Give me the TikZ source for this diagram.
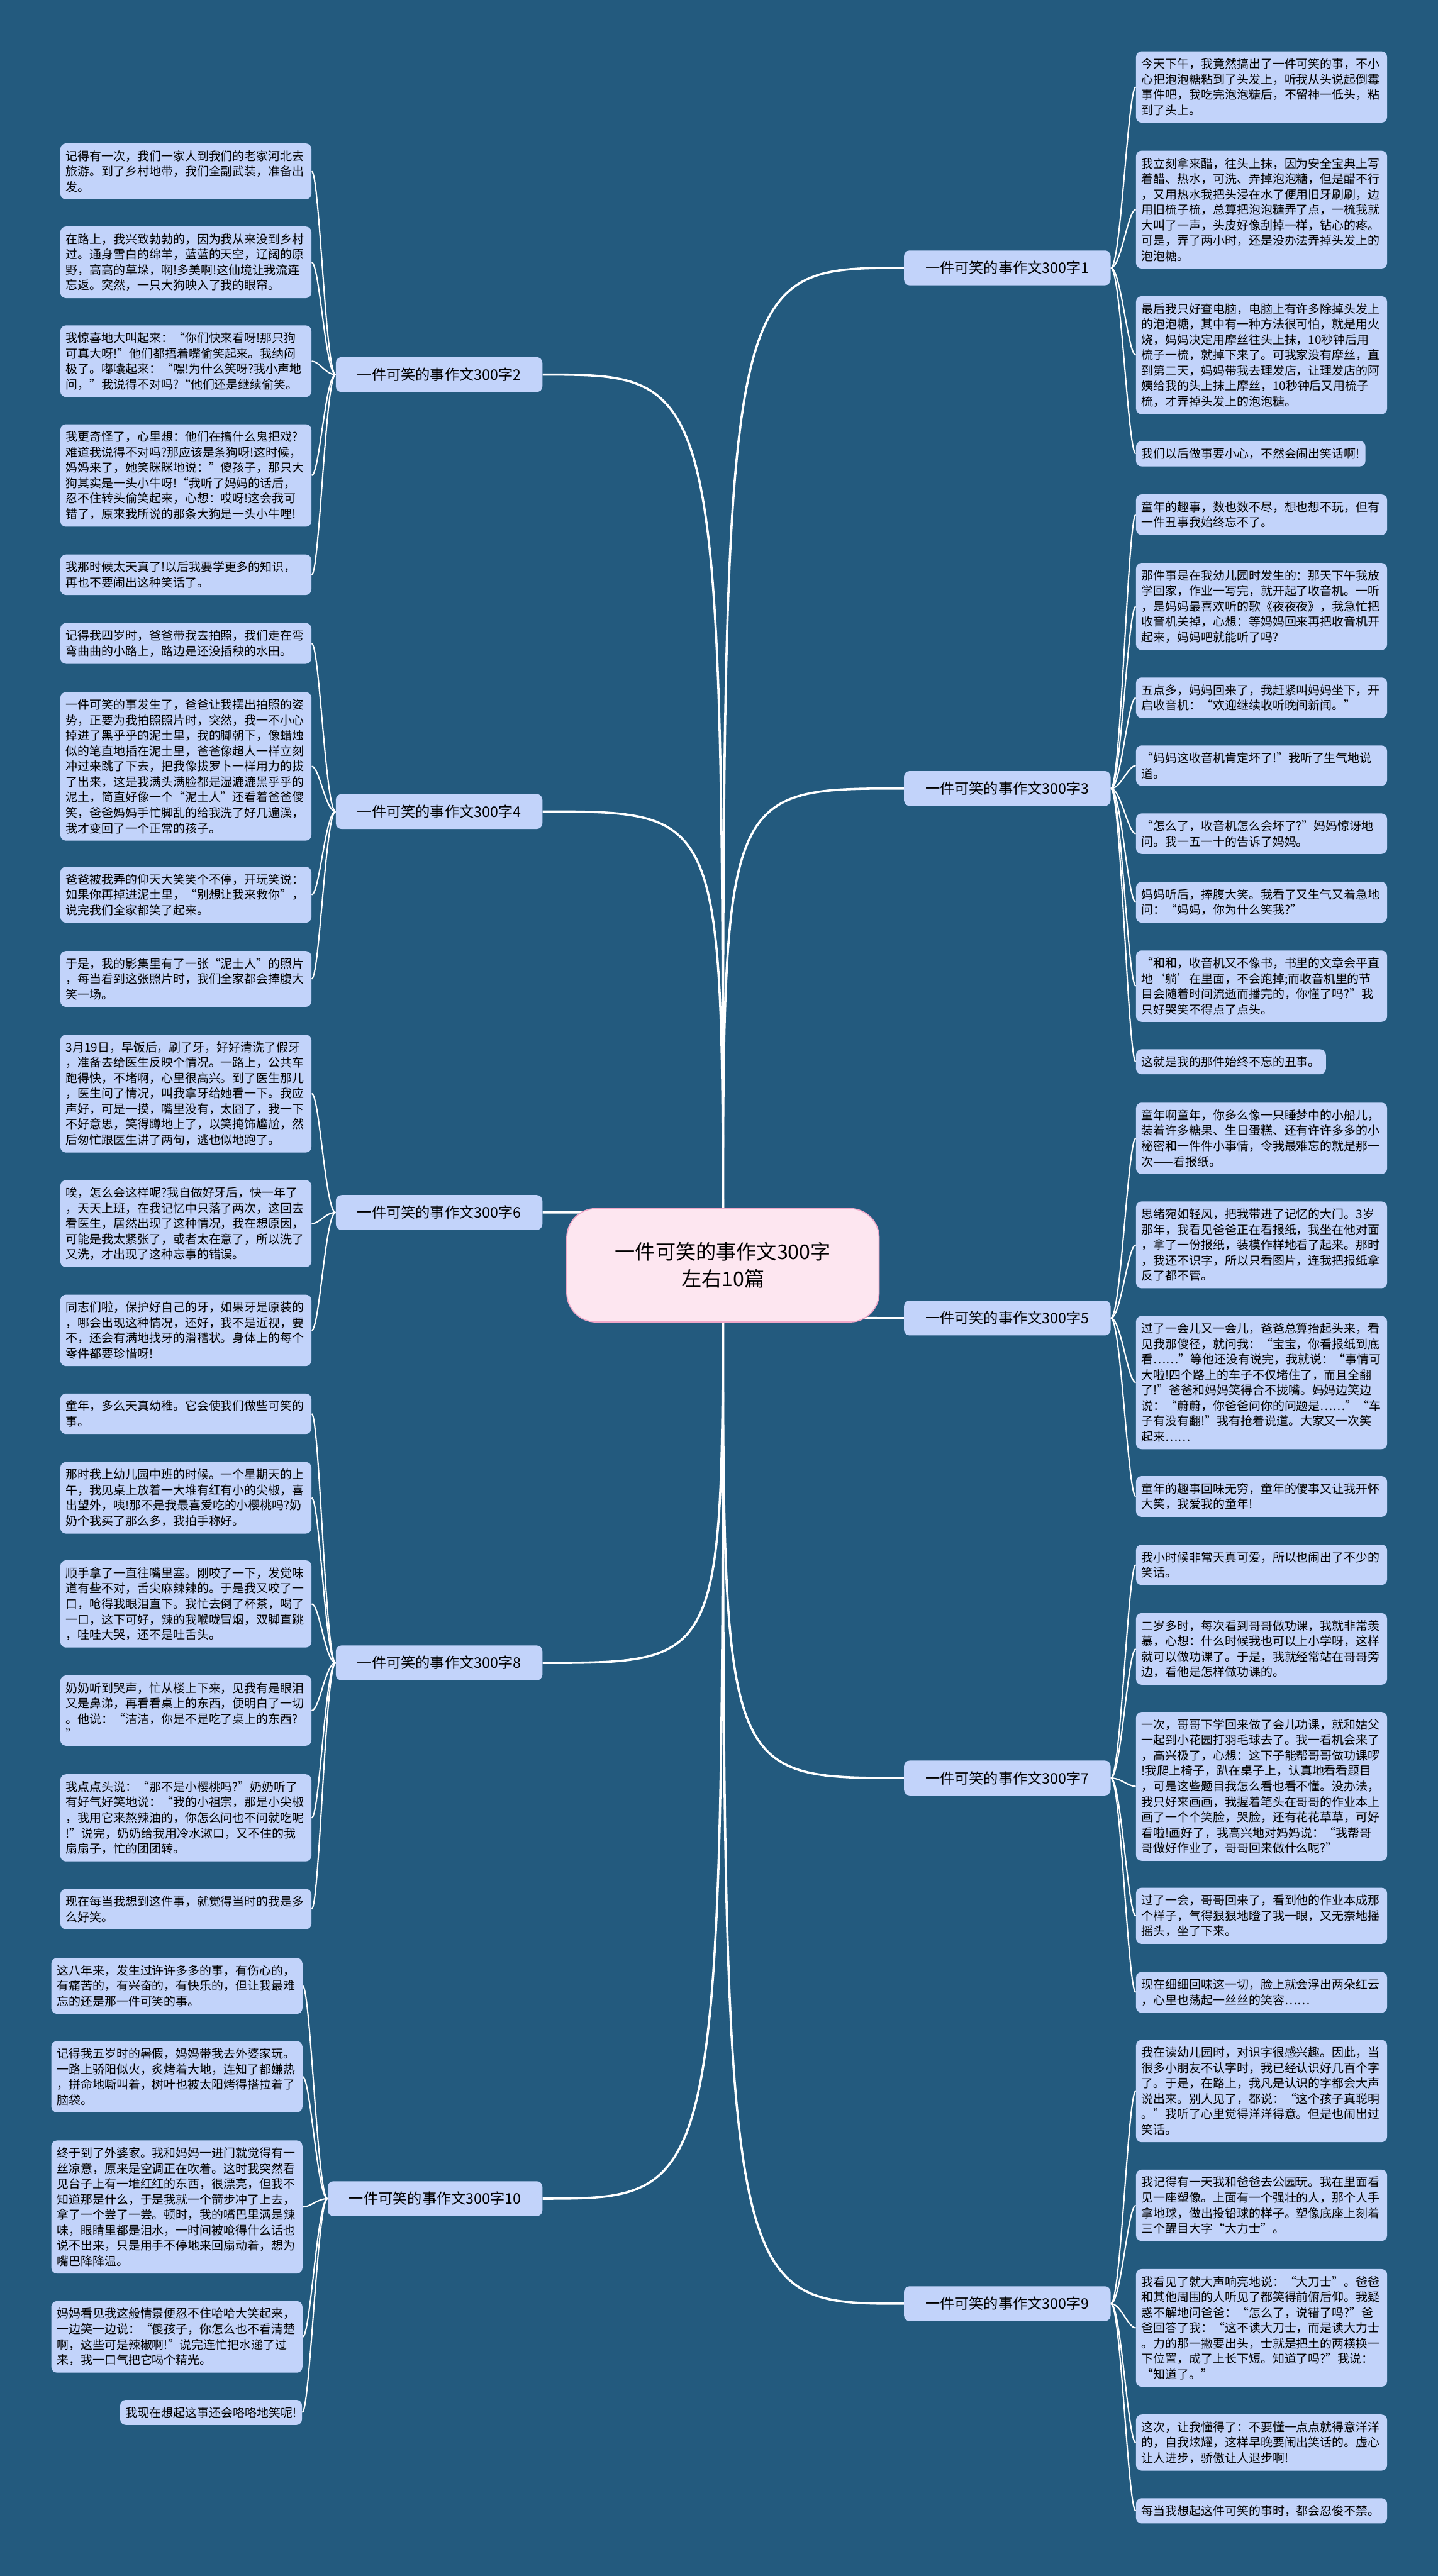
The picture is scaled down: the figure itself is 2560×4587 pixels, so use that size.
\documentclass[tikz,border=0pt]{standalone}
\usepackage{fontspec}
\setmainfont{Noto Sans CJK SC}
\usetikzlibrary{backgrounds}

\definecolor{bgblue}{HTML}{235A7E}
\definecolor{leafblue}{HTML}{C2D3FA}
\definecolor{rootpink}{HTML}{FDE6F0}
\definecolor{rootedge}{HTML}{F0A8C8}

\newcommand{\leaffont}{\fontsize{10.6pt}{13.75pt}\selectfont}
\newcommand{\branchfont}{\fontsize{13pt}{16pt}\selectfont}
\newcommand{\rootfont}{\fontsize{18pt}{24pt}\selectfont}

\begin{document}
\begin{tikzpicture}[
  x=0.5pt, y=-0.5pt,
  leaf/.style={fill=leafblue, rounded corners=5pt, inner xsep=5pt, inner ysep=6.2pt,
    align=left, font=\leaffont, anchor=north west},
  wide/.style={leaf, text width=213.5pt},
  branch/.style={fill=leafblue, rounded corners=5pt, font=\branchfont,
    inner xsep=19pt, minimum height=31pt},
  root/.style={fill=rootpink, draw=rootedge, line width=1pt, rounded corners=26pt,
    minimum width=278pt, minimum height=101pt, align=center, font=\rootfont},
  bough/.style={draw=white, line width=2pt},
  twig/.style={draw=white, line width=1.2pt}
]
  \useasboundingbox (0,0) rectangle (2560,4587);
  \begin{scope}[on background layer]
    \fill[bgblue] (0,0) rectangle (2560,4587);
  \end{scope}

  % Centre
  \node[root] (root) at (1287,2253) {一件可笑的事作文300字\\左右10篇};

  % Branches, right side
  \node[branch, anchor=west] (b1) at (1609,477)  {一件可笑的事作文300字1};
  \node[branch, anchor=west] (b3) at (1609,1404) {一件可笑的事作文300字3};
  \node[branch, anchor=west] (b5) at (1609,2347) {一件可笑的事作文300字5};
  \node[branch, anchor=west] (b7) at (1609,3166) {一件可笑的事作文300字7};
  \node[branch, anchor=west] (b9) at (1609,4102) {一件可笑的事作文300字9};

  % Branches, left side
  \node[branch, anchor=east] (b2)  at (966,667)  {一件可笑的事作文300字2};
  \node[branch, anchor=east] (b4)  at (966,1445) {一件可笑的事作文300字4};
  \node[branch, anchor=east] (b6)  at (966,2159) {一件可笑的事作文300字6};
  \node[branch, anchor=east] (b8)  at (966,2961) {一件可笑的事作文300字8};
  \node[branch, anchor=east] (b10) at (966,3915) {一件可笑的事作文300字10};

  % Leaves of 1
  \node[wide] (r1a) at (2022,91) {今天下午，我竟然搞出了一件可笑的事，不小\\心把泡泡糖粘到了头发上，听我从头说起倒霉\\事件吧，我吃完泡泡糖后，不留神一低头，粘\\到了头上。};
  \node[wide] (r1b) at (2022,268) {我立刻拿来醋，往头上抹，因为安全宝典上写\\着醋、热水，可洗、弄掉泡泡糖，但是醋不行\\，又用热水我把头浸在水了便用旧牙刷刷，边\\用旧梳子梳，总算把泡泡糖弄了点，一梳我就\\大叫了一声，头皮好像刮掉一样，钻心的疼。\\可是，弄了两小时，还是没办法弄掉头发上的\\泡泡糖。};
  \node[wide] (r1c) at (2022,527) {最后我只好查电脑，电脑上有许多除掉头发上\\的泡泡糖，其中有一种方法很可怕，就是用火\\烧，妈妈决定用摩丝往头上抹，10秒钟后用\\梳子一梳，就掉下来了。可我家没有摩丝，直\\到第二天，妈妈带我去理发店，让理发店的阿\\姨给我的头上抹上摩丝，10秒钟后又用梳子\\梳，才弄掉头发上的泡泡糖。};
  \node[leaf] (r1d) at (2022,785) {我们以后做事要小心，不然会闹出笑话啊!};

  % Leaves of 3
  \node[wide] (r3a) at (2022,880) {童年的趣事，数也数不尽，想也想不玩，但有\\一件丑事我始终忘不了。};
  \node[wide] (r3b) at (2022,1002) {那件事是在我幼儿园时发生的：那天下午我放\\学回家，作业一写完，就开起了收音机。一听\\，是妈妈最喜欢听的歌《夜夜夜》，我急忙把\\收音机关掉，心想：等妈妈回来再把收音机开\\起来，妈妈吧就能听了吗?};
  \node[wide] (r3c) at (2022,1206) {五点多，妈妈回来了，我赶紧叫妈妈坐下，开\\启收音机：“欢迎继续收听晚间新闻。”};
  \node[wide] (r3d) at (2022,1327) {“妈妈这收音机肯定坏了!”我听了生气地说\\道。};
  \node[wide] (r3e) at (2022,1448) {“怎么了，收音机怎么会坏了?”妈妈惊讶地\\问。我一五一十的告诉了妈妈。};
  \node[wide] (r3f) at (2022,1570) {妈妈听后，捧腹大笑。我看了又生气又着急地\\问：“妈妈，你为什么笑我?”};
  \node[wide] (r3g) at (2022,1692) {“和和，收音机又不像书，书里的文章会平直\\地‘躺’在里面，不会跑掉;而收音机里的节\\目会随着时间流逝而播完的，你懂了吗?”我\\只好哭笑不得点了点头。};
  \node[leaf] (r3h) at (2022,1868) {这就是我的那件始终不忘的丑事。};

  % Leaves of 5
  \node[wide] (r5a) at (2022,1963) {童年啊童年，你多么像一只睡梦中的小船儿，\\装着许多糖果、生日蛋糕、还有许许多多的小\\秘密和一件件小事情，令我最难忘的就是那一\\次——看报纸。};
  \node[wide] (r5b) at (2022,2139) {思绪宛如轻风，把我带进了记忆的大门。3岁\\那年，我看见爸爸正在看报纸，我坐在他对面\\，拿了一份报纸，装模作样地看了起来。那时\\，我还不识字，所以只看图片，连我把报纸拿\\反了都不管。};
  \node[wide] (r5c) at (2022,2343) {过了一会儿又一会儿，爸爸总算抬起头来，看\\见我那傻径，就问我：“宝宝，你看报纸到底\\看……”等他还没有说完，我就说：“事情可\\大啦!四个路上的车子不仅堵住了，而且全翻\\了!”爸爸和妈妈笑得合不拢嘴。妈妈边笑边\\说：“蔚蔚，你爸爸问你的问题是……”“车\\子有没有翻!”我有抢着说道。大家又一次笑\\起来……};
  \node[wide] (r5d) at (2022,2628) {童年的趣事回味无穷，童年的傻事又让我开怀\\大笑，我爱我的童年!};

  % Leaves of 7
  \node[wide] (r7a) at (2022,2750) {我小时候非常天真可爱，所以也闹出了不少的\\笑话。};
  \node[wide] (r7b) at (2022,2872) {二岁多时，每次看到哥哥做功课，我就非常羡\\慕，心想：什么时候我也可以上小学呀，这样\\就可以做功课了。于是，我就经常站在哥哥旁\\边，看他是怎样做功课的。};
  \node[wide] (r7c) at (2022,3048) {一次，哥哥下学回来做了会儿功课，就和姑父\\一起到小花园打羽毛球去了。我一看机会来了\\，高兴极了，心想：这下子能帮哥哥做功课啰\\!我爬上椅子，趴在桌子上，认真地看看题目\\，可是这些题目我怎么看也看不懂。没办法，\\我只好来画画，我握着笔头在哥哥的作业本上\\画了一个个笑脸，哭脸，还有花花草草，可好\\看啦!画好了，我高兴地对妈妈说：“我帮哥\\哥做好作业了，哥哥回来做什么呢?”};
  \node[wide] (r7d) at (2022,3361) {过了一会，哥哥回来了，看到他的作业本成那\\个样子，气得狠狠地瞪了我一眼，又无奈地摇\\摇头，坐了下来。};
  \node[wide] (r7e) at (2022,3511) {现在细细回味这一切，脸上就会浮出两朵红云\\，心里也荡起一丝丝的笑容……};

  % Leaves of 9
  \node[wide] (r9a) at (2022,3632) {我在读幼儿园时，对识字很感兴趣。因此，当\\很多小朋友不认字时，我已经认识好几百个字\\了。于是，在路上，我凡是认识的字都会大声\\说出来。别人见了，都说：“这个孩子真聪明\\。”我听了心里觉得洋洋得意。但是也闹出过\\笑话。};
  \node[wide] (r9b) at (2022,3863) {我记得有一天我和爸爸去公园玩。我在里面看\\见一座塑像。上面有一个强壮的人，那个人手\\拿地球，做出投铅球的样子。塑像底座上刻着\\三个醒目大字“大力士”。};
  \node[wide] (r9c) at (2022,4040) {我看见了就大声响亮地说：“大刀士”。爸爸\\和其他周围的人听见了都笑得前俯后仰。我疑\\惑不解地问爸爸：“怎么了，说错了吗?”爸\\爸回答了我：“这不读大刀士，而是读大力士\\。力的那一撇要出头，士就是把土的两横换一\\下位置，成了上长下短。知道了吗?”我说：\\“知道了。”};
  \node[wide] (r9d) at (2022,4299) {这次，让我懂得了：不要懂一点点就得意洋洋\\的，自我炫耀，这样早晚要闹出笑话的。虚心\\让人进步，骄傲让人退步啊!};
  \node[wide] (r9e) at (2022,4448) {每当我想起这件可笑的事时，都会忍俊不禁。};

  % Leaves of 2
  \node[wide] (l2a) at (107,255) {记得有一次，我们一家人到我们的老家河北去\\旅游。到了乡村地带，我们全副武装，准备出\\发。};
  \node[wide] (l2b) at (107,403) {在路上，我兴致勃勃的，因为我从来没到乡村\\过。通身雪白的绵羊，蓝蓝的天空，辽阔的原\\野，高高的草垛，啊!多美啊!这仙境让我流连\\忘返。突然，一只大狗映入了我的眼帘。};
  \node[wide] (l2c) at (107,579) {我惊喜地大叫起来：“你们快来看呀!那只狗\\可真大呀!”他们都捂着嘴偷笑起来。我纳闷\\极了。嘟囔起来：“嘿!为什么笑呀?我小声地\\问，”我说得不对吗?“他们还是继续偷笑。};
  \node[wide] (l2d) at (107,755) {我更奇怪了，心里想：他们在搞什么鬼把戏?\\难道我说得不对吗?那应该是条狗呀!这时候，\\妈妈来了，她笑眯眯地说：”傻孩子，那只大\\狗其实是一头小牛呀!“我听了妈妈的话后，\\忍不住转头偷笑起来，心想：哎呀!这会我可\\错了，原来我所说的那条大狗是一头小牛哩!};
  \node[wide] (l2e) at (107,987) {我那时候太天真了!以后我要学更多的知识，\\再也不要闹出这种笑话了。};

  % Leaves of 4
  \node[wide] (l4a) at (107,1109) {记得我四岁时，爸爸带我去拍照，我们走在弯\\弯曲曲的小路上，路边是还没插秧的水田。};
  \node[wide] (l4b) at (107,1232) {一件可笑的事发生了，爸爸让我摆出拍照的姿\\势，正要为我拍照照片时，突然，我一不小心\\掉进了黑乎乎的泥土里，我的脚朝下，像蜡烛\\似的笔直地插在泥土里，爸爸像超人一样立刻\\冲过来跳了下去，把我像拔罗卜一样用力的拔\\了出来，这是我满头满脸都是湿漉漉黑乎乎的\\泥土，简直好像一个“泥土人”还看着爸爸傻\\笑，爸爸妈妈手忙脚乱的给我洗了好几遍澡，\\我才变回了一个正常的孩子。};
  \node[wide] (l4c) at (107,1543) {爸爸被我弄的仰天大笑笑个不停，开玩笑说：\\如果你再掉进泥土里，“别想让我来救你”，\\说完我们全家都笑了起来。};
  \node[wide] (l4d) at (107,1693) {于是，我的影集里有了一张“泥土人”的照片\\，每当看到这张照片时，我们全家都会捧腹大\\笑一场。};

  % Leaves of 6
  \node[wide] (l6a) at (107,1842) {3月19日，早饭后，刷了牙，好好清洗了假牙\\，准备去给医生反映个情况。一路上，公共车\\跑得快，不堵啊，心里很高兴。到了医生那儿\\，医生问了情况，叫我拿牙给她看一下。我应\\声好，可是一摸，嘴里没有，太囧了，我一下\\不好意思，笑得蹲地上了，以笑掩饰尴尬，然\\后匆忙跟医生讲了两句，逃也似地跑了。};
  \node[wide] (l6b) at (107,2101) {唉，怎么会这样呢?我自做好牙后，快一年了\\，天天上班，在我记忆中只落了两次，这回去\\看医生，居然出现了这种情况，我在想原因，\\可能是我太紧张了，或者太在意了，所以洗了\\又洗，才出现了这种忘事的错误。};
  \node[wide] (l6c) at (107,2305) {同志们啦，保护好自己的牙，如果牙是原装的\\，哪会出现这种情况，还好，我不是近视，要\\不，还会有满地找牙的滑稽状。身体上的每个\\零件都要珍惜呀!};

  % Leaves of 8
  \node[wide] (l8a) at (107,2481) {童年，多么天真幼稚。它会使我们做些可笑的\\事。};
  \node[wide] (l8b) at (107,2603) {那时我上幼儿园中班的时候。一个星期天的上\\午，我见桌上放着一大堆有红有小的尖椒，喜\\出望外，咦!那不是我最喜爱吃的小樱桃吗?奶\\奶个我买了那么多，我拍手称好。};
  \node[wide] (l8c) at (107,2778) {顺手拿了一直往嘴里塞。刚咬了一下，发觉味\\道有些不对，舌尖麻辣辣的。于是我又咬了一\\口，呛得我眼泪直下。我忙去倒了杯茶，喝了\\一口，这下可好，辣的我喉咙冒烟，双脚直跳\\，哇哇大哭，还不是吐舌头。};
  \node[wide] (l8d) at (107,2983) {奶奶听到哭声，忙从楼上下来，见我有是眼泪\\又是鼻涕，再看看桌上的东西，便明白了一切\\。他说：“洁洁，你是不是吃了桌上的东西?\\”};
  \node[wide] (l8e) at (107,3159) {我点点头说：“那不是小樱桃吗?”奶奶听了\\有好气好笑地说：“我的小祖宗，那是小尖椒\\，我用它来熬辣油的，你怎么问也不问就吃呢\\!”说完，奶奶给我用冷水漱口，又不住的我\\扇扇子，忙的团团转。};
  \node[wide] (l8f) at (107,3363) {现在每当我想到这件事，就觉得当时的我是多\\么好笑。};

  % Leaves of 10
  \node[wide] (l10a) at (91,3486) {这八年来，发生过许许多多的事，有伤心的，\\有痛苦的，有兴奋的，有快乐的，但让我最难\\忘的还是那一件可笑的事。};
  \node[wide] (l10b) at (91,3634) {记得我五岁时的暑假，妈妈带我去外婆家玩。\\一路上骄阳似火，炙烤着大地，连知了都嫌热\\，拼命地嘶叫着，树叶也被太阳烤得搭拉着了\\脑袋。};
  \node[wide] (l10c) at (91,3811) {终于到了外婆家。我和妈妈一进门就觉得有一\\丝凉意，原来是空调正在吹着。这时我突然看\\见台子上有一堆红红的东西，很漂亮，但我不\\知道那是什么，于是我就一个箭步冲了上去，\\拿了一个尝了一尝。顿时，我的嘴巴里满是辣\\味，眼睛里都是泪水，一时间被呛得什么话也\\说不出来，只是用手不停地来回扇动着，想为\\嘴巴降降温。};
  \node[wide] (l10d) at (91,4097) {妈妈看见我这般情景便忍不住哈哈大笑起来，\\一边笑一边说：“傻孩子，你怎么也不看清楚\\啊，这些可是辣椒啊!”说完连忙把水递了过\\来，我一口气把它喝个精光。};
  \node[leaf, anchor=north east] (l10e) at (538,4273) {我现在想起这事还会咯咯地笑呢!};

  \begin{scope}[on background layer]
    % centre to branches
    \foreach \b in {b1,b3,b5,b7,b9}
      \draw[bough] (root.center) .. controls (root.center |- \b.west) .. (\b.west);
    \foreach \b in {b2,b4,b6,b8,b10}
      \draw[bough] (root.center) .. controls (root.center |- \b.east) .. (\b.east);
    % branches to leaves
    \foreach \b/\ls in {b1/{r1a,r1b,r1c,r1d}, b3/{r3a,r3b,r3c,r3d,r3e,r3f,r3g,r3h},
        b5/{r5a,r5b,r5c,r5d}, b7/{r7a,r7b,r7c,r7d,r7e}, b9/{r9a,r9b,r9c,r9d,r9e}}
      \foreach \n in \ls
        \draw[twig] (\b.east) .. controls +(18,0) and +(-14,0) .. (\n.west);
    \foreach \b/\ls in {b2/{l2a,l2b,l2c,l2d,l2e}, b4/{l4a,l4b,l4c,l4d},
        b6/{l6a,l6b,l6c}, b8/{l8a,l8b,l8c,l8d,l8e,l8f}, b10/{l10a,l10b,l10c,l10d,l10e}}
      \foreach \n in \ls
        \draw[twig] (\b.west) .. controls +(-18,0) and +(14,0) .. (\n.east);
  \end{scope}
\end{tikzpicture}
\end{document}
